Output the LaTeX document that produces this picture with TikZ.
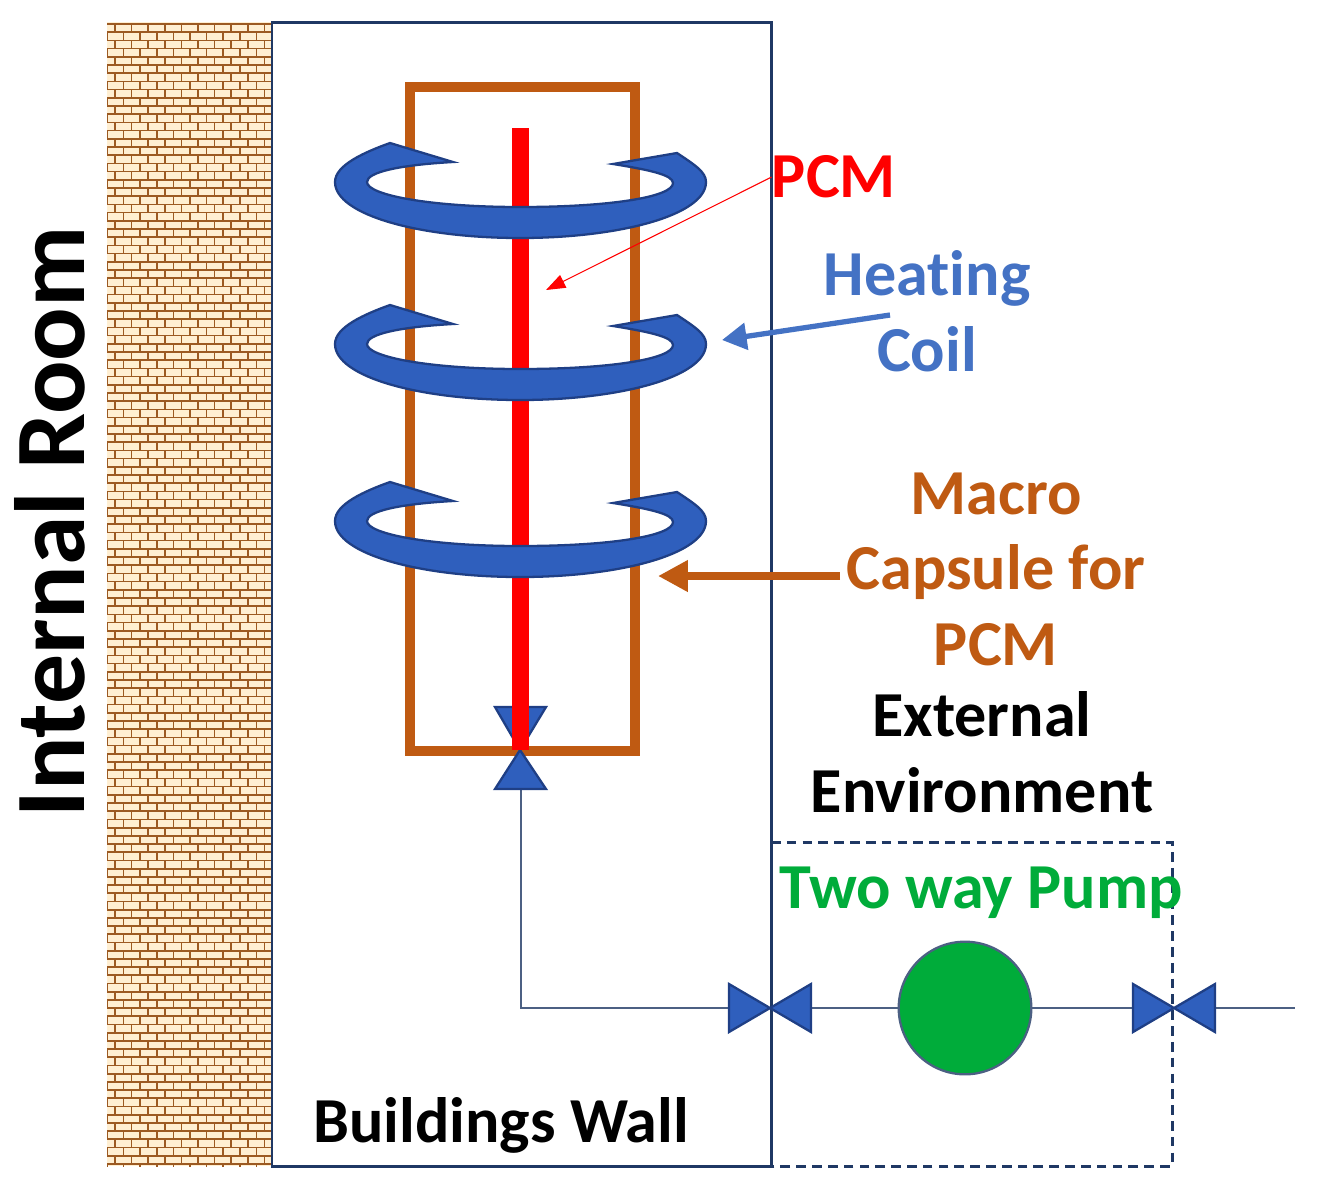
\documentclass[tikz,border=0pt]{standalone}
\usepackage{fontspec}
\setmainfont[Ligatures=NoCommon]{Carlito}
\usetikzlibrary{arrows.meta}
\definecolor{wallblue}{HTML}{1F3864}
\definecolor{coilblue}{HTML}{2F5FBD}
\definecolor{coildark}{HTML}{1F3F85}
\definecolor{labelblue}{HTML}{4472C4}
\definecolor{capsule}{HTML}{BF5A12}
\definecolor{pumpgreen}{HTML}{00AC3A}
\definecolor{brickfill}{HTML}{FFEFD2}
\definecolor{brickline}{HTML}{9C5A22}
\tikzset{
  lbl/.style={font=\fontsize{36.5}{43}\selectfont\bfseries,align=center,inner sep=0pt},
  valve/.style={fill=coilblue,draw=coildark,line width=1.3pt,line join=miter},
  pipe/.style={draw=wallblue!80,line width=0.8pt},
}
\begin{document}
\begin{tikzpicture}[x=0.02cm,y=-0.02cm]
\useasboundingbox (0,0) rectangle (1317,1188);
%brick wall
\fill[brickfill] (107,22) rectangle (272,1166);
\begin{scope}
\clip (107,22) rectangle (272,1166);
\foreach \r in {0,...,139} {
  \pgfmathsetmacro{\yy}{24+8.2*\r}
  \pgfmathsetmacro{\xs}{mod(\r,2)==0 ? 115 : 107}
  \draw[brickline,line width=1pt] (107,\yy) -- (272,\yy);
  \foreach \k in {0,...,10} {
    \draw[brickline,line width=1pt] ({\xs+16.6*\k},\yy) -- ({\xs+16.6*\k},{\yy+8.2});
  }
}
\end{scope}
%wall and pump box
\draw[wallblue,line width=1.7pt,dash pattern=on 5.5pt off 3.5pt] (771,842) -- (1172,842) -- (1172,1166) -- (771,1166);
\draw[wallblue,line width=1.7pt] (272,22) rectangle (771,1166);
%capsule
\draw[capsule,line width=5.5pt] (410,87) rectangle (635,751);
%pipe and valves
\coordinate (vtop) at (520,750);
\coordinate (vleft) at (770,1008);
\coordinate (vright) at (1174,1008);
\coordinate (pipeend) at (1295,1008);
\coordinate (corner) at (521,1008);
\node[circle,fill=pumpgreen,draw=wallblue!80,line width=1.3pt,minimum size=75.5pt,inner sep=0pt] (pump) at (965,1008) {};
\draw[pipe] (521,789) -- (corner) -- (vleft) -- (pump);
\draw[pipe] (pump) -- (vright) -- (pipeend);
\draw[valve] (vtop) -- (495,707) -- (546,707) -- cycle;
\draw[valve] (vtop) -- (495,789) -- (546,789) -- cycle;
\foreach \v/\s in {vleft/0,vright/404} {
  \draw[valve] (\v) -- ({729+\s},984) -- ({729+\s},1032) -- cycle;
  \draw[valve] (\v) -- ({811+\s},984) -- ({811+\s},1032) -- cycle;
}
%red rod
\fill[red] (512,128) rectangle (529,750);
%coils
\foreach \offs in {0,162,339} {
\begin{scope}[shift={(0,\offs)}]
\draw[fill=coilblue,draw=coildark,line width=1.3pt]
  (706,182) .. controls (706,215) and (620,238) .. (520,238)
  .. controls (420,238) and (335,215) .. (335,182)
  .. controls (335,165) and (365,152) .. (390,143)
  -- (453,162)
  .. controls (400,165) and (367,172) .. (367,182)
  .. controls (367,195) and (430,207) .. (520,207)
  .. controls (610,207) and (673,197) .. (673,183)
  .. controls (673,175) and (650,170) .. (613,164)
  -- (677,153)
  .. controls (695,165) and (706,172) .. (706,182) -- cycle;
\end{scope}
}
%labels
\node[lbl,text=red] (pcm) at (834,177) {PCM};
\node[lbl,text=labelblue] (coil) at (927,311) {Heating\\Coil};
\node[lbl,text=capsule] (macro) at (996,569) {Macro\\Capsule for\\PCM};
\node[lbl] (external) at (982,752) {External\\Environment};
\node[lbl,text=pumpgreen] (twoway) at (981,893) {Two way Pump};
\node[lbl] (wall) at (501,1125) {Buildings Wall};
\node[font=\fontsize{56.8}{60}\selectfont\bfseries,rotate=90,inner sep=0pt] (room) at (50,522) {Internal Room};
%arrows
\coordinate (pcmtip) at (546,290);
\coordinate (coilstart) at (890,315);
\coordinate (coiltip) at (722,340);
\coordinate (macrostart) at (840,576);
\coordinate (macrotip) at (658,576);
\draw[red,line width=0.6pt,-{Triangle[length=11pt,width=8pt]}] (pcm.west) -- (pcmtip);
\draw[labelblue,line width=3pt,-{Triangle[length=14pt,width=15pt]}] (coilstart) -- (coiltip);
\draw[capsule,line width=4.2pt,-{Triangle[length=17pt,width=17pt]}] (macrostart) -- (macrotip);
\end{tikzpicture}
\end{document}
